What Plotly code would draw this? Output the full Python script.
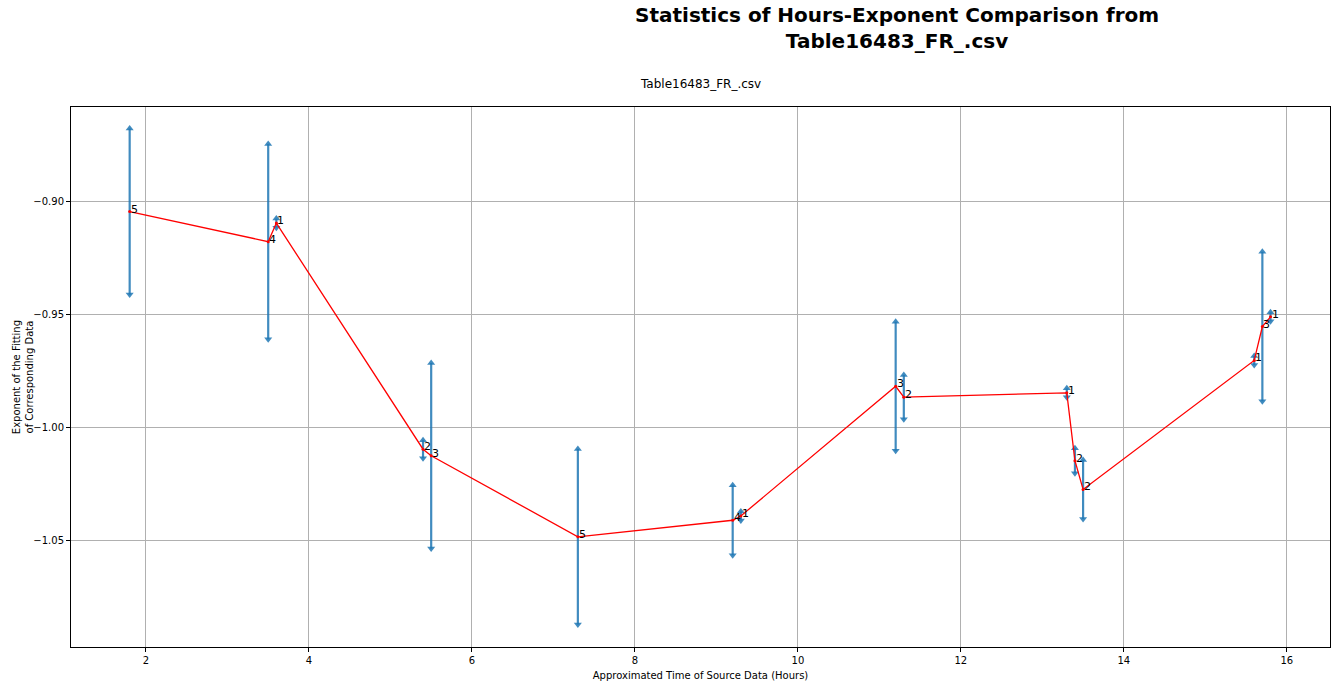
import plotly.graph_objects as go

# hours, fitted exponent, its error and number of samples behind each point
hours = [1.8, 3.5, 3.6, 5.4, 5.5, 7.3, 9.2, 9.3, 11.2, 11.3, 13.3, 13.4, 13.5, 15.6, 15.7, 15.8]
exponent = [-0.9045, -0.9178, -0.9096, -1.0095, -1.0124, -1.0482, -1.0409, -1.0390,
            -0.9817, -0.9865, -0.9846, -1.0146, -1.0273, -0.9703, -0.9553, -0.9510]
err = [0.0367, 0.0431, 0.0020, 0.0040, 0.0410, 0.0388, 0.0155, 0.0020,
       0.0285, 0.0098, 0.0020, 0.0055, 0.0130, 0.0020, 0.0330, 0.0020]
counts = ['5', '4', '1', '2', '3', '5', '4', '1', '3', '2', '1', '2', '2', '1', '3', '1']

blue = 'rgba(31,119,180,0.85)'
font = 'DejaVu Sans'

fig = go.Figure()

# error bars with arrow heads at both ends
fig.add_trace(go.Scatter(x=hours, y=exponent, mode='markers',
                         marker=dict(size=1, color=blue),
                         error_y=dict(type='data', array=err, visible=True,
                                      color=blue, thickness=2.2, width=0),
                         showlegend=False, hoverinfo='skip'))
fig.add_trace(go.Scatter(x=hours, y=[v + e for v, e in zip(exponent, err)], mode='markers',
                         marker=dict(symbol='triangle-up', size=7, color=blue),
                         showlegend=False, hoverinfo='skip'))
fig.add_trace(go.Scatter(x=hours, y=[v - e for v, e in zip(exponent, err)], mode='markers',
                         marker=dict(symbol='triangle-down', size=7, color=blue),
                         showlegend=False, hoverinfo='skip'))

# red line through the means
fig.add_trace(go.Scatter(x=hours, y=exponent, mode='lines+markers',
                         line=dict(color='red', width=1.3),
                         marker=dict(size=3, color='red'),
                         showlegend=False))

annotations = []
for x, y, c in zip(hours, exponent, counts):
    annotations.append(dict(x=x, y=y, text=c, showarrow=False, xanchor='left', yanchor='bottom',
                            yshift=-6, xshift=-1, font=dict(family=font, size=11, color='black')))

# suptitle sits off-centre, to the right, like the original figure
annotations.append(dict(text='<b>Statistics of Hours-Exponent Comparison from<br>Table16483_FR_.csv</b>',
                        xref='paper', yref='paper', x=0.6563, y=1.1967, xanchor='center', yanchor='top',
                        showarrow=False, font=dict(family=font, size=20, color='black')))
annotations.append(dict(text='Table16483_FR_.csv', xref='paper', yref='paper', x=0.5, y=1,
                        xanchor='center', yanchor='bottom', yshift=14, showarrow=False,
                        font=dict(family=font, size=12, color='black')))
annotations.append(dict(text='Exponent of the Fitting<br>of Corresponding Data', xref='paper', yref='paper',
                        x=-0.038, y=0.5, textangle=-90, xanchor='center', yanchor='middle',
                        showarrow=False, font=dict(family=font, size=10, color='black')))

axis_style = dict(showline=True, linecolor='black', linewidth=1, mirror=True,
                  showgrid=True, gridcolor='#b0b0b0', gridwidth=1, zeroline=False,
                  ticks='outside', ticklen=4, tickcolor='black',
                  tickfont=dict(family=font, size=10, color='black'))

fig.update_layout(
    width=1341, height=689,
    margin=dict(l=71, r=10, t=107, b=38),
    plot_bgcolor='white', paper_bgcolor='white',
    xaxis=dict(range=[1.08, 16.53], dtick=2,
               title=dict(text='Approximated Time of Source Data (Hours)', standoff=6,
                          font=dict(family=font, size=10, color='black')),
               **axis_style),
    yaxis=dict(range=[-1.0969, -0.8583], dtick=0.05, tickformat='.2f', **axis_style),
    annotations=annotations,
)

# page body has a default margin, drop it so the figure sits at the corner
fig.write_html("out.html", config={'displayModeBar': False},
               post_script="document.body.style.margin='0';")
